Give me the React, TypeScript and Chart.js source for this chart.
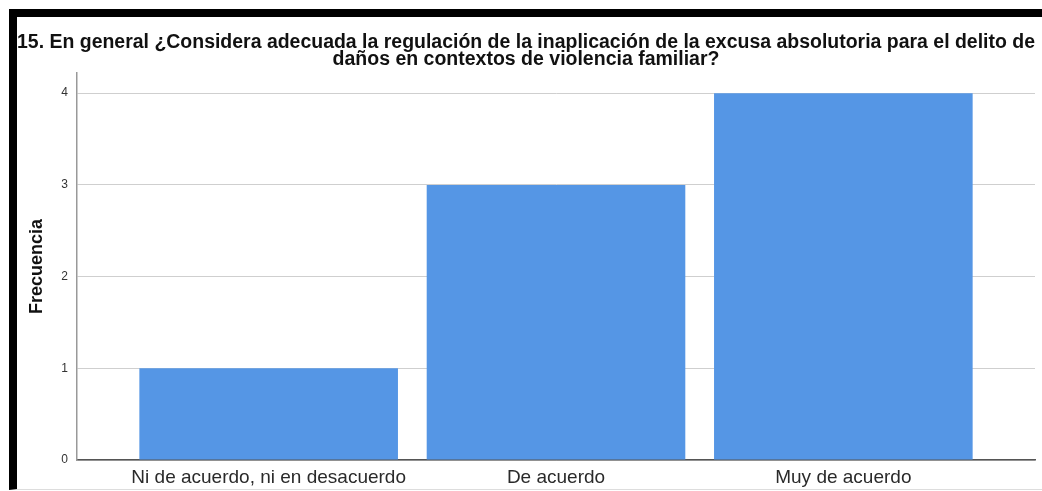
import React, { useEffect, useRef } from "react";
import { Chart, registerables } from "chart.js";

Chart.register(...registerables);

const titleLines = [
  "15. En general ¿Considera adecuada la regulación de la inaplicación de la excusa absolutoria para el delito de",
  "daños en contextos de violencia familiar?",
];
const categories = ["Ni de acuerdo, ni en desacuerdo", "De acuerdo", "Muy de acuerdo"];
const frecuencias = [1, 3, 4];
const yTicks = [0, 1, 2, 3, 4];
const yAxisTitle = "Frecuencia";

export default function App() {
  const ref = useRef<HTMLCanvasElement | null>(null);

  useEffect(() => {
    if (!ref.current) return;
    const font = "'Liberation Sans', Arial, sans-serif";
    const chart = new Chart(ref.current, {
      type: "bar",
      data: {
        datasets: [
          {
            label: yAxisTitle,
            data: categories.map((_, i) => ({ x: i, y: frecuencias[i] })),
            backgroundColor: "#5596e5",
            borderWidth: 0,
            barPercentage: 0.9,
            categoryPercentage: 1.0,
          },
        ],
      },
      options: {
        animation: false,
        responsive: true,
        maintainAspectRatio: false,
        layout: { padding: { left: 0, right: 7, top: 0, bottom: 0 } },
        plugins: {
          legend: { display: false },
          tooltip: { enabled: false },
          title: {
            display: true,
            text: titleLines,
            color: "#111",
            font: { family: font, size: 19.5, weight: "bold", lineHeight: "17px" as any },
            padding: { top: 17.5, bottom: 4.5 },
          },
        },
        scales: {
          x: {
            type: "linear",
            offset: false,
            min: -0.667,
            max: 2.667,
            grid: { display: false, drawTicks: false, offset: false },
            border: { display: true, color: "#555", width: 1.5 },
            afterBuildTicks: (scale: any) => {
              scale.ticks = categories.map((_, i) => ({ value: i }));
            },
            afterFit: (scale: any) => {
              scale.height = 29;
            },
            ticks: {
              autoSkip: false,
              maxRotation: 0,
              minRotation: 0,
              padding: 6,
              color: "#2a2a2a",
              font: { family: font, size: 19 },
              callback: (v: any) => categories[v as number] ?? "",
            },
          },
          y: {
            type: "linear",
            min: 0,
            max: 4.22,
            afterBuildTicks: (scale: any) => {
              scale.ticks = yTicks.map((v) => ({ value: v }));
            },
            afterFit: (scale: any) => {
              scale.width = 60;
            },
            grid: { display: true, color: "#cfcfcf", lineWidth: 1, drawTicks: false },
            border: { display: true, color: "#999", width: 1.5 },
            ticks: {
              padding: 9,
              color: "#333",
              font: { family: font, size: 12 },
              callback: (v: any) => String(v),
            },
            title: {
              display: true,
              text: yAxisTitle,
              color: "#111",
              font: { family: font, size: 18, weight: "bold", lineHeight: 1.2 },
              padding: { top: 9, bottom: 0 },
            },
          },
        },
      },
    });
    return () => chart.destroy();
  }, []);

  return (
    <div
      style={{
        position: "fixed",
        left: 9,
        top: 9,
        width: 1025,
        height: 472,
        borderTop: "8px solid #000",
        borderLeft: "8px solid #000",
        borderBottom: "1px solid #ddd",
        background: "#fff",
      }}
    >
      <div style={{ position: "relative", width: 1025, height: 472 }}>
        <canvas ref={ref} />
      </div>
    </div>
  );
}
